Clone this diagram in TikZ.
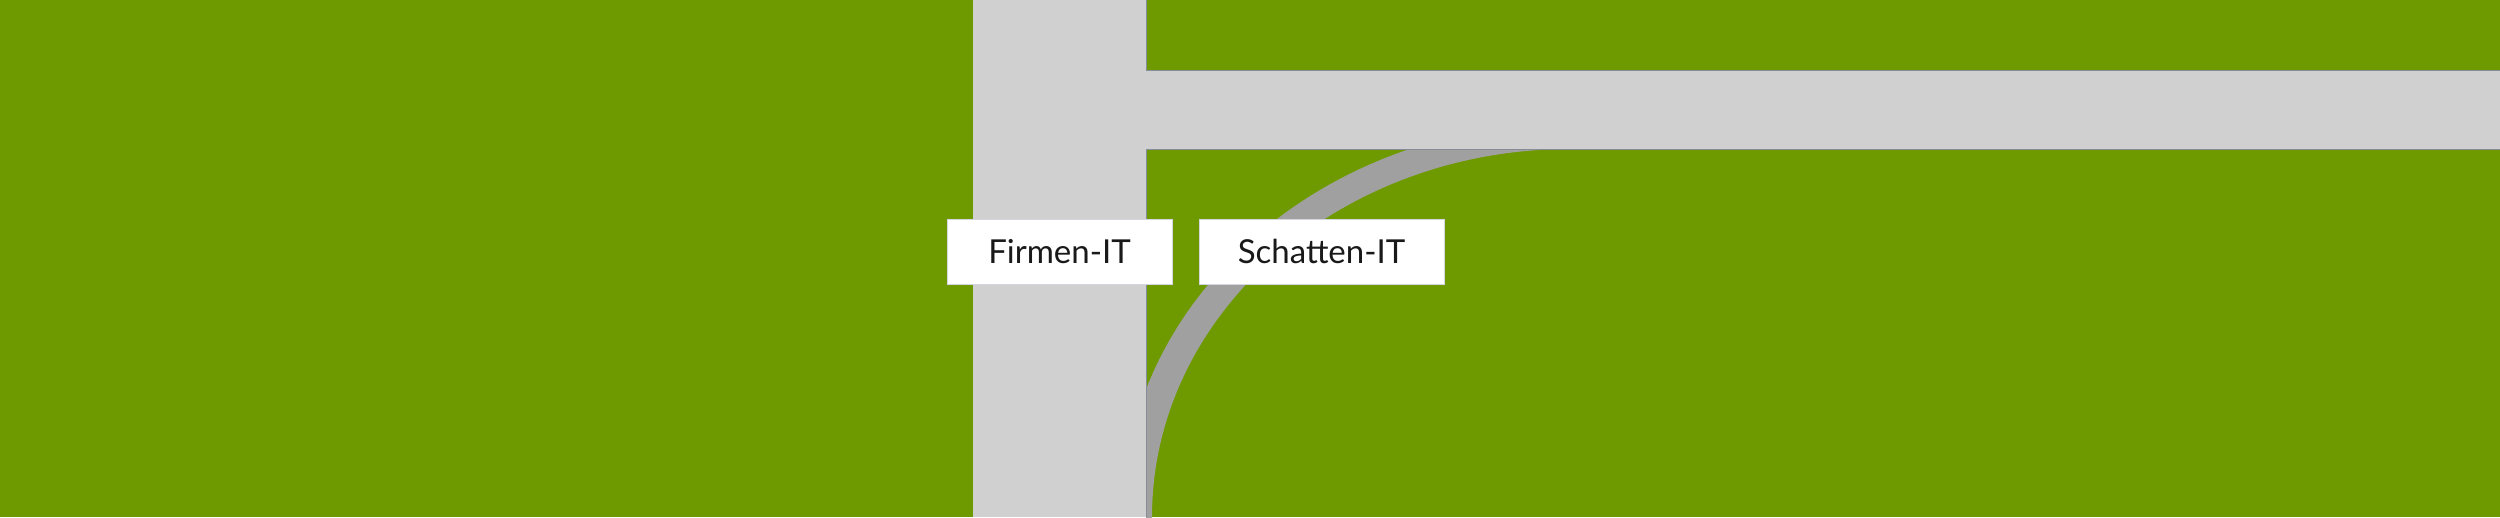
\documentclass[tikz,border=0pt]{standalone}
\usepackage{fontspec}
\setmainfont{Lato}
\definecolor{field}{HTML}{6E9A00}
\definecolor{road}{HTML}{D0D0D0}
\definecolor{shadow}{HTML}{A0A0A0}
\definecolor{edge}{HTML}{858C98}
\definecolor{boxline}{HTML}{D4D6DE}
\begin{document}
\begin{tikzpicture}[x=1pt,y=-1pt,
  roadfill/.style={fill=road},
  edgeline/.style={draw=edge,line width=1pt},
  label/.style={fill=white,draw=boxline,line width=1pt,minimum height=65pt,inner sep=0pt,
    font=\fontsize{33}{40}\selectfont,text=black!90}]
\useasboundingbox (0,0) rectangle (2500,517);
% background
\fill[field] (0,0) rectangle (2500,517);
% shadow path (curved band)
\coordinate (c) at (1570,517);
\begin{scope}
  \clip (1146,149) rectangle (1570,517);
  \fill[shadow,even odd rule] (c) ellipse [x radius=448pt,y radius=394pt]
                              (c) ellipse [x radius=418pt,y radius=368pt];
\end{scope}
% roads
\fill[roadfill] (973,0) rectangle (1146,517);
\fill[roadfill] (1146,70) rectangle (2500,149);
\draw[edgeline] (1146,0) -- (1146,70) -- (2500,70);
\draw[edgeline] (2500,149) -- (1146,149) -- (1146,517);
% labels
\node[label,minimum width=225pt] (firmen) at (1059.5,251.5) {Firmen-IT};
\node[label,minimum width=245pt] (schatten) at (1321.5,251.5) {Schatten-IT};
\end{tikzpicture}
\end{document}
